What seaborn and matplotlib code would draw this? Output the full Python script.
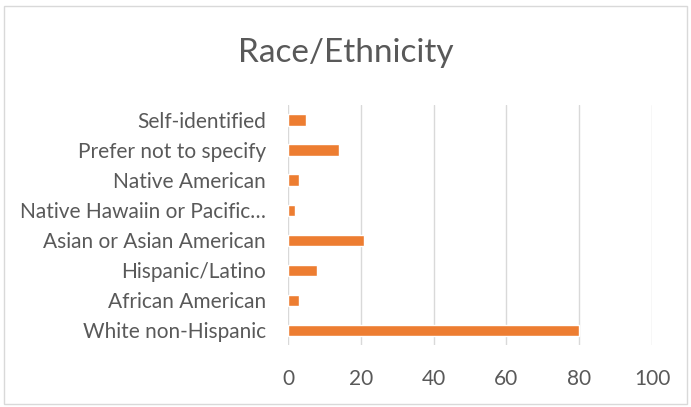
import matplotlib
matplotlib.use("Agg")
import matplotlib.pyplot as plt
import seaborn as sns
import pandas as pd
from matplotlib.patches import Rectangle

categorias = ["Self-identified", "Prefer not to specify", "Native American",
              "Native Hawaiin or Pacific\u2026", "Asian or Asian American",
              "Hispanic/Latino", "African American", "White non-Hispanic"]
valores = [5, 14, 3, 2, 21, 8, 3, 80]
ticks_x = [0, 20, 40, 60, 80, 100]

datos = pd.DataFrame({"categoria": categorias, "valor": valores})

sns.set_style("white")
plt.rcParams["font.family"] = ["Lato", "DejaVu Sans"]

fig = plt.figure(figsize=(6.91, 4.07), dpi=100)
ax = fig.add_axes([0.4168, 0.152, 0.5268, 0.59])

sns.barplot(data=datos, y="categoria", x="valor", orient="h",
            color="#ED7D31", saturation=1, width=0.37, ax=ax)

ax.set_xlim(0, 100)
ax.set_xticks(ticks_x)
ax.set_xlabel("")
ax.set_ylabel("")
ax.grid(axis="x", color="#D9D9D9", linewidth=1)
ax.set_axisbelow(True)
for s in ax.spines.values():
    s.set_visible(False)
ax.tick_params(axis="both", length=0, labelsize=15, colors="#595959")
ax.tick_params(axis="x", pad=17)
ax.tick_params(axis="y", pad=16)

fig.text(0.5, 0.87, "Race/Ethnicity", ha="center", va="center",
         fontsize=24, color="#595959")
fig.patches.append(Rectangle((0.006, 0.008), 0.988, 0.977, transform=fig.transFigure,
                             fill=False, edgecolor="#D9D9D9", linewidth=1))

fig.savefig("out.png", dpi=100)
